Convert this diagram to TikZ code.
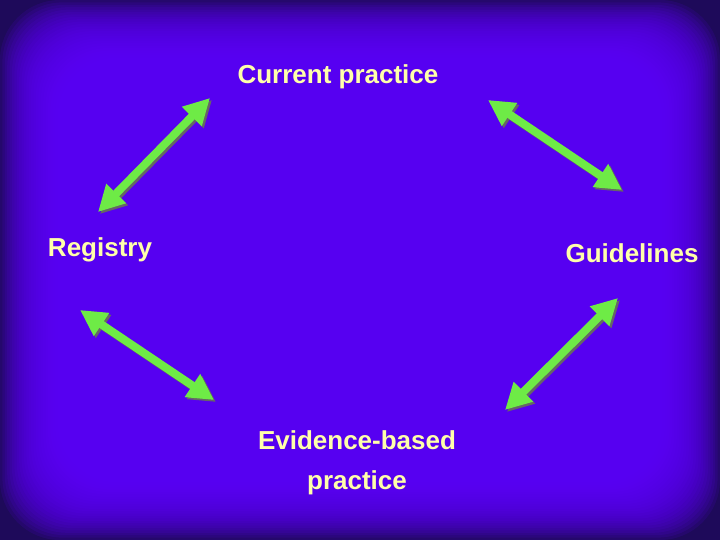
\documentclass[tikz,border=0pt]{standalone}
\usepackage{fontspec}
\setmainfont{Liberation Sans}
\usetikzlibrary{arrows.meta}
\definecolor{txt}{RGB}{255,255,170}
\definecolor{grn}{RGB}{110,235,70}
\definecolor{bgin}{RGB}{95,0,255}
\definecolor{bgout}{RGB}{30,10,90}
\begin{document}
\begin{tikzpicture}[x=1pt,y=-1pt,
  lbl/.style={font=\bfseries\fontsize{26}{40}\selectfont,text=txt,align=center},
  arr/.style={line width=8pt,grn,{Triangle[length=26pt,width=26pt]}-{Triangle[length=26pt,width=26pt]}},
  arrs/.style={line width=8pt,black!60,{Triangle[length=26pt,width=26pt]}-{Triangle[length=26pt,width=26pt]}}]
\useasboundingbox (0,0) rectangle (720,540);
\fill[bgout] (0,0) rectangle (720,540);
\foreach \i in {0,...,24}{
  \fill[bgin,opacity=0.11,rounded corners=60pt] (\i*2.4,\i*2.4) rectangle (720-\i*2.4,540-\i*2.4);
}
\node[lbl] (cp) at (338,77) {Current practice};
\node[lbl] (rg) at (100,250) {Registry};
\node[lbl] (gl) at (632,253) {Guidelines};
\node[lbl] (eb) at (357,463) {Evidence-based\\practice};
\coordinate (a1) at (98,212); \coordinate (b1) at (210,98);
\coordinate (a2) at (488,100); \coordinate (b2) at (622,190);
\coordinate (a3) at (80,310); \coordinate (b3) at (214,400);
\coordinate (a4) at (618,298); \coordinate (b4) at (505,410);
\foreach \a/\b in {a1/b1,a2/b2,a3/b3,a4/b4}{
  \draw[arrs,transform canvas={shift={(2pt,-2pt)}}] (\a) -- (\b);
  \draw[arr] (\a) -- (\b);
}
\end{tikzpicture}
\end{document}
